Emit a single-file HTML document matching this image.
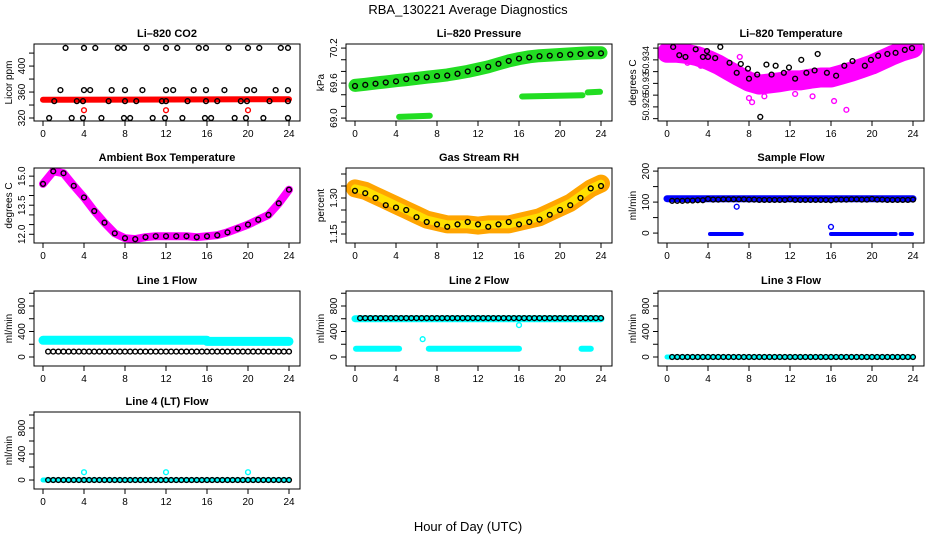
<!DOCTYPE html>
<html><head><meta charset="utf-8"><style>
html,body{margin:0;padding:0;background:#fff}
svg{display:block;font-family:"Liberation Sans",sans-serif}
</style></head><body>
<svg id="chart" width="936" height="540" viewBox="0 0 936 540" xmlns="http://www.w3.org/2000/svg">
<text x="468" y="14" font-size="13" text-anchor="middle">RBA_130221  Average Diagnostics</text>
<text x="468" y="531" font-size="13" text-anchor="middle">Hour of Day (UTC)</text>
</svg>
<script>
const xTicks = [0,4,8,12,16,20,24];
const HH = [0,1,2,3,4,5,6,7,8,9,10,11,12,13,14,15,16,17,18,19,20,21,22,23,24];
const HALF = [0.5,1,1.5,2,2.5,3,3.5,4,4.5,5,5.5,6,6.5,7,7.5,8,8.5,9,9.5,10,10.5,11,11.5,12,12.5,13,13.5,14,14.5,15,15.5,16,16.5,17,17.5,18,18.5,19,19.5,20,20.5,21,21.5,22,22.5,23,23.5,24];

// CO2
const co2RedH = [0,24];
const co2RedV = [348,349];
const co2RedOutH = [4,12,20];
const co2RedOutV = [332,332,332];
const co2DotH = [2.2,4,5.1,7.3,7.9,10.1,12,13.1,15.2,15.9,18.1,20,21.1,23.2,23.9, 1.7,4,4.6,6.7,8,9.7,12,12.7,14.7,15.9,17.7,19.9,20.6,22.7,23.9, 1.1,3.3,3.9,6.4,8,9.1,11.6,12,14.1,15.9,17,19.3,19.9,22.1,23.9, 0.6,2.8,3.9,5.7,7.9,8.5,10.7,11.9,13.6,15.8,16.4,18.7,19.8,21.5,23.9];
const co2DotV = [428,428,428,428,428,428,428,428,428,428,428,428,428,428,428, 363,363,363,363,363,363,363,363,363,363,363,363,363,363,363, 346,346,346,346,346,346,346,346,346,346,346,346,346,346,346, 320,320,320,320,320,320,320,320,320,320,320,320,320,320,320];

// Pressure
const presBandV = [69.56,69.58,69.60,69.62,69.64,69.66,69.68,69.70,69.72,69.74,69.77,69.80,69.84,69.88,69.93,69.98,70.02,70.05,70.07,70.08,70.09,70.10,70.11,70.12,70.12];
const presDotV = [69.55,69.57,69.59,69.61,69.63,69.67,69.69,69.70,69.72,69.73,69.76,69.80,69.84,69.88,69.93,69.98,70.02,70.04,70.06,70.07,70.08,70.09,70.10,70.10,70.11];
const presLow1H = [4.3,7.3];
const presLow1V = [69.02,69.04];
const presLow2H = [16.3,22.2];
const presLow2V = [69.37,69.39];
const presLow3H = [22.7,23.9];
const presLow3V = [69.44,69.45];

// Li-820 temperature
const tempBandV = [50.9352,50.9352,50.9350,50.9346,50.9340,50.9332,50.9322,50.9312,50.9303,50.9298,50.9300,50.9302,50.9305,50.9305,50.9308,50.9310,50.9310,50.9315,50.9320,50.9326,50.9332,50.9340,50.9348,50.9355,50.9360];
const tempOutH = [8,8.3,9.5,16.3,17.5,14.2,2,7.1,12.5,3.3,19.6,22.6];
const tempOutV = [50.9275,50.9268,50.9278,50.9270,50.9255,50.9278,50.9335,50.9345,50.9282,50.9330,50.9340,50.9345];
const tempDotH = [0.6,1.2,1.8,2.8,3.5,3.9,4,4.7,5.2,6.1,6.8,7.2,7.9,8,8.8,9.1,9.7,10.2,10.6,11.4,11.9,12.5,13.1,13.6,14.4,14.7,15.6,16.5,17.3,18.1,19.3,19.9,20.6,21.5,22.3,23.2,23.9];
const tempDotV = [50.9362,50.9348,50.9345,50.9358,50.9345,50.9355,50.9345,50.9343,50.9362,50.9335,50.9318,50.9333,50.9325,50.9308,50.9315,50.9243,50.9332,50.9315,50.9330,50.9318,50.9327,50.9308,50.9340,50.9318,50.9322,50.9350,50.9318,50.9313,50.9330,50.9338,50.9330,50.9340,50.9347,50.9350,50.9352,50.9357,50.9360];

// Ambient box temperature
const ambV = [14.6,15.25,15.15,14.5,13.9,13.2,12.6,12.05,11.8,11.75,11.85,11.9,11.9,11.9,11.9,11.85,11.9,11.95,12.1,12.3,12.5,12.75,13.0,13.6,14.3];

// Gas stream RH
const rhV = [1.34,1.33,1.31,1.29,1.27,1.25,1.23,1.21,1.20,1.19,1.19,1.19,1.185,1.19,1.19,1.19,1.20,1.21,1.22,1.24,1.26,1.28,1.31,1.34,1.36];
const rhDotV = [1.33,1.32,1.30,1.27,1.26,1.25,1.22,1.20,1.19,1.18,1.19,1.20,1.19,1.18,1.19,1.20,1.19,1.20,1.21,1.23,1.25,1.27,1.30,1.34,1.35];

// Sample flow
const sampBandH = [0,24];
const sampBandV = [111,111];
const sampLow1H = [4.2,7.3];
const sampLow2H = [16,22.3];
const sampLow3H = [22.8,23.9];
const sampLowV = [-3,-3];
const sampOutH = [6.8,16];
const sampOutV = [85,20];
const sampDotV = [104,104,104,105,105,106,106,110,108,108,109,109,109,109,109,108,108,107,107,107,107,107,107,109,107,107,107,107,107,107,107,106,108,108,108,109,109,108,108,110,108,108,107,107,107,107,107,108];

// Line 1 flow
const l1BandH = [0,16,16,24];
const l1BandV = [262,262,245,245];
const l1DotV = [85,85,85,85,85,85,85,85,85,85,85,85,85,85,85,85,85,85,85,85,85,85,85,85,85,85,85,85,85,85,85,85,85,85,85,85,85,85,85,85,85,85,85,85,85,85,85,85];

// Line 2 flow
const l2BandH = [0,24];
const l2BandV = [600,600];
const l2Low1H = [0.1,4.3];
const l2Low2H = [7.2,16];
const l2Low3H = [22.1,23];
const l2LowV = [130,130];
const l2OutH = [6.6,16];
const l2OutV = [280,500];
const l2DotV = [610,610,610,610,610,610,610,610,610,610,610,610,610,610,610,610,610,610,610,610,610,610,610,610,610,610,610,610,610,610,610,610,610,610,610,610,610,610,610,610,610,610,610,610,610,610,610,610];

// Line 3 / Line 4
const zeroV = [0,0,0,0,0,0,0,0,0,0,0,0,0,0,0,0,0,0,0,0,0,0,0,0,0,0,0,0,0,0,0,0,0,0,0,0,0,0,0,0,0,0,0,0,0,0,0,0];
const cyanZeroH = [0,0.2,24];
const cyanZeroV = [0,0,0];
const l4OutH = [4,12,20];
const l4OutV = [120,120,120];

const NS = 'http://www.w3.org/2000/svg';
const svg = document.getElementById('chart');
function mk(tag, attrs, parent){
  const e = document.createElementNS(NS, tag);
  for (const k in attrs) e.setAttribute(k, attrs[k]);
  (parent||svg).appendChild(e);
  return e;
}
function px(p,h){ return p.l + 9 + h*10.25; }
function py(p,v){ return p.t + p.h - (v-p.ymin)/(p.ymax-p.ymin)*p.h; }

function panel(cfg){
  const g = mk('g', {});
  
  
  const p = Object.assign({g:g}, cfg);
  const plot = mk('g', {}, g);
  
  
  p.plot = plot;
  const t = mk('text', {x: p.l + 133, y: p.t - 7, 'font-size': 11, 'font-weight': 'bold', 'text-anchor': 'middle'}, g);
  t.textContent = cfg.title;
  
  
  const xa = mk('g', {}, g);
  
  
  xTicks.forEach(h => {
    const x = px(p,h);
    mk('line', {x1:x, x2:x, y1:p.t+p.h, y2:p.t+p.h+5, stroke:'#000'}, xa);
    const tl = mk('text', {x:x, y:p.t+p.h+16, 'font-size':10, 'text-anchor':'middle'}, xa);
    tl.textContent = h;
    
    
  });
  const ya = mk('g', {}, g);
  
  
  cfg.yTicks.forEach(v => {
    const y = py(p,v);
    mk('line', {x1:p.l-5, x2:p.l, y1:y, y2:y, stroke:'#000'}, ya);
  });
  const fs = cfg.labelSize || 10;
  cfg.yLabels.forEach((v,i) => {
    const y = py(p,v);
    const tl = mk('text', {x:0, y:0, 'font-size':fs, 'text-anchor':'middle', transform:'translate('+(p.l-9)+','+y+') rotate(-90)'}, ya);
    tl.textContent = cfg.yLabelText[i];
    
    
  });
  const yt = mk('text', {x:0, y:0, 'font-size':10, 'text-anchor':'middle', transform:'translate('+(p.l-22)+','+(p.t+p.h/2)+') rotate(-90)'}, ya);
  yt.textContent = cfg.ytitle;
  
  
  p.finish = function(){
    const r = mk('rect', {x:p.l, y:p.t, width:266, height:p.h, fill:'none', stroke:'#000'}, g);
    
    
  };
  const cp = mk('clipPath', {id:'clip-'+cfg.name}, g);
  mk('rect', {x:p.l, y:p.t, width:266, height:p.h}, cp);
  plot.setAttribute('clip-path', 'url(#clip-'+cfg.name+')');
  return p;
}
function band(p, hs, vs, color, w, name){
  const pts = hs.map((h,i) => px(p,h).toFixed(1)+','+py(p,vs[i]).toFixed(1)).join(' ');
  const e = mk('polyline', {points:pts, fill:'none', stroke:color, 'stroke-width':w, 'stroke-linecap':'round', 'stroke-linejoin':'round'}, p.plot);
  
  
}
function dots(p, hs, vs, color, name, r, sw){
  const g = mk('g', {}, p.plot);
  
  
  hs.forEach((h,i) => {
    const c = mk('circle', {cx:px(p,h), cy:py(p,vs[i]), r:r||2.4, fill:'none', stroke:color, 'stroke-width':sw||1.4}, g);
    
    
  });
}

const cols = [34, 346, 658];
const flowTicks = [0,200,400,600,800,1000];

let p = panel({name:'co2', title:'Li\u2013820 CO2', l:cols[0], t:44, h:77, ymin:315.4, ymax:434, ytitle:'Licor ppm',
  yTicks:[320,340,360,380,400,420], yLabels:[320,360,400], yLabelText:['320','360','400']});
band(p, co2RedH, co2RedV, '#ff0000', 6, 'co2-red-series');
dots(p, co2RedOutH, co2RedOutV, '#ff0000', 'co2-red-outliers');
dots(p, co2DotH, co2DotV, '#000', 'co2-average-points');
p.finish();

p = panel({name:'pressure', title:'Li\u2013820 Pressure', l:cols[1], t:44, h:77, ymin:68.95, ymax:70.27, ytitle:'kPa',
  yTicks:[69.0,69.2,69.4,69.6,69.8,70.0,70.2], yLabels:[69.0,69.6,70.2], yLabelText:['69.0','69.6','70.2']});
band(p, HH, presBandV, '#22dd22', 13, 'pressure-green-series');
band(p, presLow1H, presLow1V, '#22dd22', 6, 'pressure-green-low-1');
band(p, presLow2H, presLow2V, '#22dd22', 6, 'pressure-green-low-2');
band(p, presLow3H, presLow3V, '#22dd22', 6, 'pressure-green-low-3');
dots(p, HH, presDotV, '#000', 'pressure-average-points');
p.finish();

p = panel({name:'li820-temp', title:'Li\u2013820 Temperature', l:cols[2], t:44, h:77, ymin:50.9236, ymax:50.9367, ytitle:'degrees C', labelSize:9,
  yTicks:[50.924,50.926,50.928,50.930,50.932,50.934,50.936], yLabels:[50.926,50.930,50.934], yLabelText:['50.926','50.93','50.934']});
band(p, HH, tempBandV, '#ff00ff', 20, 'temp-magenta-series');
dots(p, tempOutH, tempOutV, '#ff00ff', 'temp-magenta-outliers');
dots(p, tempDotH, tempDotV, '#000', 'temp-average-points');
p.finish();

p = panel({name:'ambient-temp', title:'Ambient Box Temperature', l:cols[0], t:168, h:75, ymin:11.55, ymax:15.42, ytitle:'degrees C',
  yTicks:[12,12.5,13,13.5,14,14.5,15], yLabels:[12,13.5,15], yLabelText:['12.0','13.5','15.0']});
band(p, HH, ambV, '#ff00ff', 8, 'ambient-magenta-series');
dots(p, HH, ambV, '#000', 'ambient-average-points');
p.finish();

p = panel({name:'rh', title:'Gas Stream RH', l:cols[1], t:168, h:75, ymin:1.1125, ymax:1.425, ytitle:'percent',
  yTicks:[1.15,1.20,1.25,1.30,1.35,1.40], yLabels:[1.15,1.30], yLabelText:['1.15','1.30']});
band(p, HH, rhV, '#ffa500', 18, 'rh-orange-series');
band(p, HH, rhV, '#ffe000', 8, 'rh-yellow-series');
dots(p, HH, rhDotV, '#000', 'rh-average-points');
p.finish();

p = panel({name:'sample-flow', title:'Sample Flow', l:cols[2], t:168, h:75, ymin:-32, ymax:210, ytitle:'ml/min',
  yTicks:[0,50,100,150,200], yLabels:[0,100,200], yLabelText:['0','100','200']});
band(p, sampBandH, sampBandV, '#0000ff', 7, 'sample-blue-series');
band(p, sampLow1H, sampLowV, '#0000ff', 4, 'sample-blue-low-1');
band(p, sampLow2H, sampLowV, '#0000ff', 4, 'sample-blue-low-2');
band(p, sampLow3H, sampLowV, '#0000ff', 4, 'sample-blue-low-3');
dots(p, sampOutH, sampOutV, '#0000ff', 'sample-blue-outliers');
dots(p, HALF, sampDotV, '#000', 'sample-average-points');
p.finish();

p = panel({name:'line1-flow', title:'Line 1 Flow', l:cols[0], t:291, h:75, ymin:-141, ymax:1035, ytitle:'ml/min',
  yTicks:flowTicks, yLabels:[0,400,800], yLabelText:['0','400','800']});
band(p, l1BandH, l1BandV, '#00ffff', 9, 'line1-cyan-series');
dots(p, HALF, l1DotV, '#000', 'line1-average-points');
p.finish();

p = panel({name:'line2-flow', title:'Line 2 Flow', l:cols[1], t:291, h:75, ymin:-141, ymax:1035, ytitle:'ml/min',
  yTicks:flowTicks, yLabels:[0,400,800], yLabelText:['0','400','800']});
band(p, l2BandH, l2BandV, '#00ffff', 7, 'line2-cyan-series');
band(p, l2Low1H, l2LowV, '#00ffff', 6, 'line2-cyan-low-1');
band(p, l2Low2H, l2LowV, '#00ffff', 6, 'line2-cyan-low-2');
band(p, l2Low3H, l2LowV, '#00ffff', 6, 'line2-cyan-low-3');
dots(p, l2OutH, l2OutV, '#00ffff', 'line2-cyan-outliers');
dots(p, HALF, l2DotV, '#000', 'line2-average-points');
p.finish();

p = panel({name:'line3-flow', title:'Line 3 Flow', l:cols[2], t:291, h:75, ymin:-141, ymax:1035, ytitle:'ml/min',
  yTicks:flowTicks, yLabels:[0,400,800], yLabelText:['0','400','800']});
band(p, cyanZeroH, cyanZeroV, '#00ffff', 5, 'line3-cyan-series');
dots(p, HALF, zeroV, '#000', 'line3-average-points');
p.finish();

p = panel({name:'line4-flow', title:'Line 4 (LT) Flow', l:cols[0], t:412, h:77, ymin:-138, ymax:1046, ytitle:'ml/min',
  yTicks:flowTicks, yLabels:[0,400,800], yLabelText:['0','400','800']});
band(p, cyanZeroH, cyanZeroV, '#00ffff', 5, 'line4-cyan-series');
dots(p, l4OutH, l4OutV, '#00ffff', 'line4-cyan-outliers');
dots(p, HALF, zeroV, '#000', 'line4-average-points');
p.finish();
</script>
</body></html>
